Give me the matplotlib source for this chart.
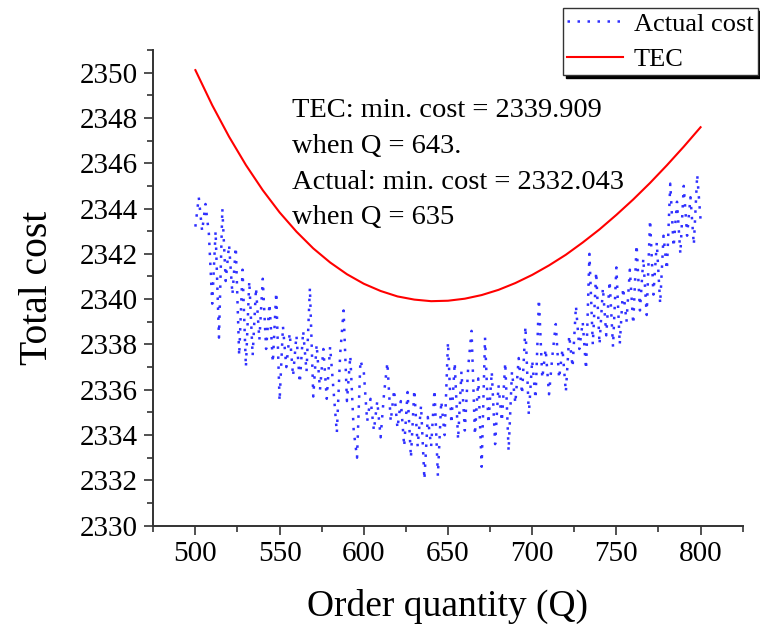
import numpy as np
import matplotlib
matplotlib.use("Agg")
import matplotlib.pyplot as plt
from matplotlib.ticker import MultipleLocator

plt.rcParams['font.family'] = ['Liberation Serif', 'DejaVu Serif']

# Actual cost, every 2 units of Q (500..800)
q_actual = np.arange(500, 801, 2)
actual_cost = [
    2343.2, 2344.5, 2343.0, 2344.2, 2342.9, 2339.8, 2343.0, 2338.3, 2344.0, 2340.8,
    2342.4, 2340.2, 2342.3, 2337.5, 2341.3, 2337.0, 2340.8, 2337.5, 2340.5, 2338.2,
    2340.9, 2337.8, 2339.8, 2337.2, 2340.3, 2335.5, 2338.8, 2337.0, 2338.5, 2336.6,
    2338.4, 2336.3, 2338.6, 2336.8, 2340.5, 2335.7, 2338.0, 2336.0, 2337.8, 2335.6,
    2337.9, 2336.0, 2334.1, 2337.6, 2339.5, 2335.5, 2337.5, 2334.2, 2333.0, 2337.3,
    2336.8, 2334.6, 2335.6, 2334.2, 2335.5, 2333.9, 2335.8, 2337.2, 2334.6, 2336.0,
    2334.3, 2335.5, 2333.5, 2335.9, 2333.0, 2336.0, 2333.5, 2335.3, 2332.04, 2334.8,
    2333.5, 2336.0, 2332.2, 2335.5, 2334.0, 2338.1, 2334.5, 2337.2, 2333.8, 2336.8,
    2334.2, 2337.0, 2338.6, 2334.0, 2336.5, 2332.6, 2338.3, 2334.5, 2336.8, 2333.6,
    2336.2, 2334.6, 2337.2, 2333.3, 2336.8, 2335.4, 2337.4, 2335.8, 2338.8, 2334.9,
    2337.3, 2335.6, 2340.0, 2336.5, 2337.8, 2335.8, 2337.5, 2338.9, 2336.5, 2337.8,
    2335.9, 2338.4, 2337.0, 2339.7, 2337.8, 2339.0, 2336.9, 2342.0, 2338.0, 2341.2,
    2338.0, 2340.5, 2338.4, 2340.8, 2337.9, 2341.4, 2338.0, 2340.5, 2339.0, 2341.3,
    2338.9, 2342.4, 2339.5, 2341.8, 2339.3, 2343.5, 2340.2, 2342.5, 2339.8, 2342.8,
    2341.3, 2345.1, 2342.3, 2344.3, 2342.0, 2345.0, 2342.8, 2344.5, 2342.4, 2345.5,
    2343.5,
]

# TEC curve, read every 10 units of Q
q_tec = np.arange(500, 801, 10)
tec = [
    2350.11, 2348.56, 2347.17, 2345.92, 2344.81, 2343.83, 2342.98, 2342.24,
    2341.62, 2341.10, 2340.68, 2340.36, 2340.12, 2339.98, 2339.91, 2339.93,
    2340.02, 2340.18, 2340.41, 2340.71, 2341.07, 2341.49, 2341.96, 2342.50,
    2343.08, 2343.72, 2344.40, 2345.13, 2345.91, 2346.73, 2347.59,
]

note = ("TEC: min. cost = 2339.909\nwhen Q = 643.\n"
        "Actual: min. cost = 2332.043\nwhen Q = 635")

fig = plt.figure(figsize=(7.6, 6.3), dpi=100)
ax = fig.add_axes([0.2017, 0.1656, 0.7755, 0.7551])

ax.plot(q_actual, actual_cost, color='#3030ff', lw=1.8,
        linestyle=(0, (1, 3.0)), label='Actual cost')
ax.plot(q_tec, tec, color='red', lw=1.5, label='TEC')

ax.set_xlim(475, 825)
ax.set_ylim(2330, 2351)
ax.xaxis.set_major_locator(MultipleLocator(50))
ax.xaxis.set_minor_locator(MultipleLocator(25))
ax.yaxis.set_major_locator(MultipleLocator(2))
ax.yaxis.set_minor_locator(MultipleLocator(1))

for s in ['top', 'right']:
    ax.spines[s].set_visible(False)
for s in ['left', 'bottom']:
    ax.spines[s].set_linewidth(1.4)
    ax.spines[s].set_color('#333333')

ax.tick_params(which='major', direction='out', length=6.5, width=1.2,
               color='#333333', labelsize=21, pad=4.5)
ax.tick_params(which='minor', direction='out', length=4.3, width=1.2,
               color='#333333')

ax.set_xlabel('Order quantity (Q)', fontsize=27, labelpad=16)
ax.set_ylabel('Total cost', fontsize=28.5, labelpad=17)

ax.text(0.2353, 0.898, note, transform=ax.transAxes, fontsize=20.5,
        va='top', ha='left', linespacing=1.56)

leg = ax.legend(loc='upper right', bbox_to_anchor=(0.997, 0.987),
                bbox_transform=fig.transFigure, fontsize=19,
                frameon=True, fancybox=False, edgecolor='#333333',
                shadow={'color': 'black', 'alpha': 1.0},
                handlelength=2.15, handletextpad=0.4, labelspacing=0.45,
                borderpad=0.15, borderaxespad=0)
leg.get_frame().set_linewidth(1.0)

fig.savefig('out.png', dpi=100)
